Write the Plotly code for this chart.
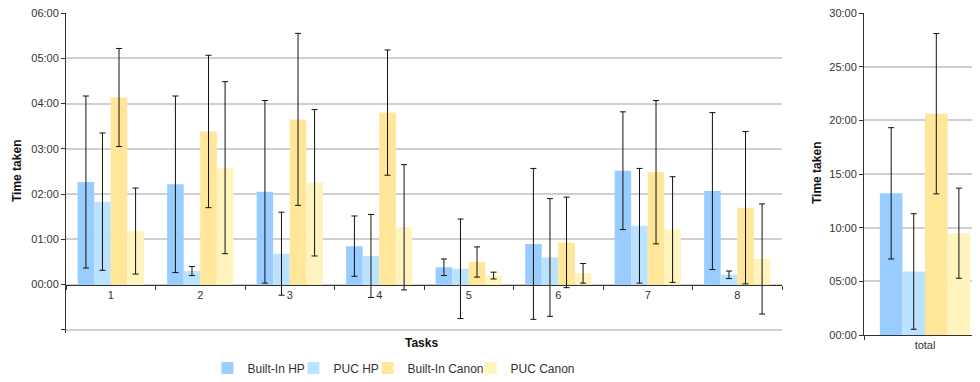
import plotly.graph_objects as go

tasks = ["1", "2", "3", "4", "5", "6", "7", "8"]
series = ["Built-In HP", "PUC HP", "Built-In Canon", "PUC Canon"]
colors = ["#99CCFF", "#BBE3FF", "#FFE699", "#FFF3BE"]

# mean time per task, seconds
builtin_hp = [136, 133, 123, 51, 23, 54, 151, 124]
puc_hp = [110, 18, 41, 38, 21, 36, 78, 13]
builtin_canon = [248, 203, 219, 228, 30, 56, 149, 102]
puc_canon = [71, 155, 135, 76, 12, 15, 73, 34]

# error (+/-), seconds
err_builtin_hp = [114, 117, 121, 40, 11, 100, 78, 104]
err_puc_hp = [91, 6, 55, 55, 66, 78, 76, 5]
err_builtin_canon = [65, 101, 114, 83, 20, 60, 95, 101]
err_puc_canon = [57, 114, 97, 83, 4.5, 13, 70, 73]

total_cat = ["total"]
total_vals = [792, 355, 1237, 569]
total_err = [367, 323, 448, 252]

left_tick_vals = [-60, 0, 60, 120, 180, 240, 300, 360]
left_tick_text = ["", "00:00", "01:00", "02:00", "03:00", "04:00", "05:00", "06:00"]
right_tick_vals = [0, 300, 600, 900, 1200, 1500, 1800]
right_tick_text = ["00:00", "05:00", "10:00", "15:00", "20:00", "25:00", "30:00"]

task_vals = [builtin_hp, puc_hp, builtin_canon, puc_canon]
task_errs = [err_builtin_hp, err_puc_hp, err_builtin_canon, err_puc_canon]

legend_names = ["legend", "legend2", "legend3", "legend4"]

fig = go.Figure()
for i, name in enumerate(series):
    fig.add_trace(go.Bar(
        x=tasks, y=task_vals[i], name=name, marker_color=colors[i],
        marker_line_width=0, offsetgroup=str(i), legendgroup=name,
        legend=legend_names[i],
        error_y=dict(type="data", array=task_errs[i], color="#111111",
                     thickness=1, width=3),
        xaxis="x", yaxis="y"))
for i, name in enumerate(series):
    fig.add_trace(go.Bar(
        x=total_cat, y=[total_vals[i]], name=name, marker_color=colors[i],
        marker_line_width=0, offsetgroup=str(i), legendgroup=name,
        showlegend=False,
        error_y=dict(type="data", array=[total_err[i]], color="#111111",
                     thickness=1, width=3),
        xaxis="x2", yaxis="y2"))

OFF = 8  # page body margin
H = 382
W = 980
top, bottom = 13 - OFF, 335 - OFF
ph = bottom - top


def px(x):
    return (x - OFF) / W


def py(y):
    return (bottom - (y - OFF)) / ph


FONT = "Liberation Sans, Arial, sans-serif"
tickfont = dict(family=FONT, size=11, color="#333333")
legfont = dict(family=FONT, size=12, color="#333333")

# desired text start of each legend entry (screen px)
legend_text_x = [247, 333, 407, 510]
legends = {}
for i, key in enumerate(legend_names):
    legends[key] = dict(x=px(legend_text_x[i] - 39.5), xanchor="left",
                        y=py(368), yanchor="middle", orientation="h",
                        font=legfont, bgcolor="rgba(0,0,0,0)",
                        borderwidth=0, itemwidth=30)

axis_common = dict(showline=True, linecolor="#333333", linewidth=1,
                   ticks="outside", ticklen=4, tickcolor="#333333",
                   tickfont=tickfont, ticklabeloverflow="allow")

GRID = "#CFCFCF"
LEFT_X0, LEFT_X1 = px(66), px(782)

fig.update_layout(
    width=W, height=H,
    margin=dict(l=0, r=0, t=top, b=H - bottom),
    paper_bgcolor="white", plot_bgcolor="white",
    barmode="group", bargap=0.26, bargroupgap=0,
    font=dict(family=FONT, size=11, color="#333333"),
    xaxis=dict(domain=[LEFT_X0, LEFT_X1], type="category", range=[-0.5, 7.5],
               anchor="free", position=py(285), tickson="boundaries",
               showgrid=False, **axis_common),
    yaxis=dict(domain=[py(333.3), 1], range=[-64.5, 360],
               tickvals=left_tick_vals, ticktext=left_tick_text,
               showgrid=True, gridcolor=GRID, gridwidth=1.5,
               zeroline=False, anchor="x", **axis_common),
    xaxis2=dict(domain=[px(864), 1.0], type="category", range=[-0.5, 0.516],
                anchor="y2", tickson="boundaries", showgrid=False, **axis_common),
    yaxis2=dict(domain=[0, 1], range=[0, 1800], anchor="x2",
                tickvals=right_tick_vals, ticktext=right_tick_text,
                showgrid=True, gridcolor=GRID, gridwidth=1.5,
                zeroline=False, **axis_common),
    showlegend=True,
    shapes=[
        # bottom gridline of the task panel (-01:00)
        dict(type="line", xref="paper", yref="y", x0=LEFT_X0, x1=LEFT_X1,
             y0=left_tick_vals[0], y1=left_tick_vals[0],
             line=dict(color=GRID, width=1.5), layer="below"),
    ],
    annotations=[
        dict(text="<b>Time taken</b>", x=px(17), y=py(171), xref="paper", yref="paper",
             xanchor="center", yanchor="middle",
             textangle=-90, showarrow=False, font=dict(family=FONT, size=12, color="#111111")),
        dict(text="<b>Time taken</b>", x=px(817), y=py(173), xref="paper", yref="paper",
             xanchor="center", yanchor="middle",
             textangle=-90, showarrow=False, font=dict(family=FONT, size=12, color="#111111")),
        dict(text="<b>Tasks</b>", x=px(421), y=py(343), xref="paper", yref="paper",
             xanchor="center", yanchor="middle",
             showarrow=False, font=dict(family=FONT, size=12, color="#111111")),
    ],
    **legends,
)

fig.write_html("out.html")
